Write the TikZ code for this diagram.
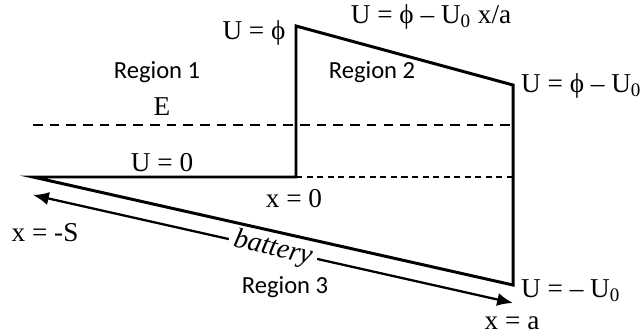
\documentclass[tikz,border=0pt]{standalone}
\usepackage{fontspec}
\setmainfont{Liberation Serif}
\newfontfamily\regionfont{Carlito}
\usetikzlibrary{arrows.meta,positioning,calc}

\begin{document}
\begin{tikzpicture}[
  x=0.02cm, y=-0.02cm,
  profile/.style={line width=1.7pt, line join=miter},
  level/.style={line width=1.6pt, dash pattern=on 5.5pt off 4pt},
  zero/.style={line width=0.9pt, dash pattern=on 3.5pt off 2.5pt},
  span/.style={line width=1.3pt, {Latex[length=9pt,width=7.5pt]}-{Latex[length=9pt,width=7.5pt]}},
  lab/.style={font=\fontsize{15.5}{18}\selectfont, inner sep=1pt},
  region/.style={font=\regionfont\fontsize{14}{16}\selectfont, inner sep=1pt}]

\useasboundingbox (0,0) rectangle (642,335);

% ================= corners of the potential ================================
\coordinate (tipS) at (33,177);
\coordinate (step) at (296,177);
\coordinate (top)  at (296,26);
\coordinate (rtop) at (513,85);
\coordinate (rbot) at (513,285);
\coordinate (eL)   at (33,125);
\coordinate (eR)   at (513,125);
\coordinate (zR)   at (513,177);
\coordinate (arL)  at (33,195);
\coordinate (arR)  at (513,303);

% ================= battery span ============================================
\draw[span] (arL) -- node[sloped, fill=white, inner sep=3pt,
  font=\fontsize{16}{18}\selectfont\itshape] (bat) {battery} (arR);

% ================= profile and levels ======================================
\draw[level] (eL) -- (eR);
\draw[zero] (step) -- (zR);
\draw[profile] (tipS) -- (step) -- (top) -- (rtop) -- (rbot) -- cycle;

% ================= labels ==================================================
\node[lab] (uphi)   at (254,33)  {U = ϕ};
\node[lab] (uslope) at (431,17)  {U = ϕ – U\textsubscript{0} x/a};
\node[lab, anchor=west] (uright) at (519,86)  {U = ϕ – U\textsubscript{0}};
\node[lab, anchor=west] (ubot)   at (519,291) {U = – U\textsubscript{0}};
\node[lab] (en)    at (162,107) {E};
\node[lab] (uzero) at (162,163) {U = 0};
\node[lab] (xzero) at (294,199) {x = 0};
\node[lab] (xs)    at (45,233)  {x = -S};
\node[lab] (xa)    at (512,323) {x = a};

\node[region] (r1) at (157,72)  {Region 1};
\node[region] (r2) at (372,72)  {Region 2};
\node[region] (r3) at (285,287) {Region 3};

\end{tikzpicture}
\end{document}
